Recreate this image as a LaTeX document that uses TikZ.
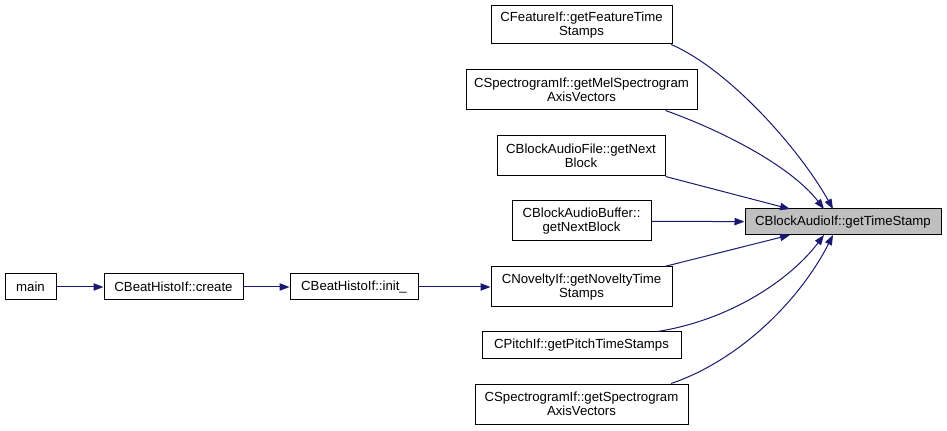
\documentclass[tikz,border=0pt]{standalone}
\usepackage{fontspec}
\setmainfont{Liberation Sans}
\usetikzlibrary{arrows.meta}
\definecolor{edgecol}{HTML}{191970}
\definecolor{hlgray}{HTML}{BFBFBF}
\begin{document}
\begin{tikzpicture}[x=0.75pt,y=-0.75pt,
  box/.style={draw=black, line width=0.75pt, fill=white, inner sep=0pt, align=center,
    font=\fontsize{9.9}{10.5}\selectfont},
  callarrow/.style={draw=edgecol, line width=0.75pt, -{Triangle[length=7.5pt,width=5.5pt]}}]
\fill[white] (0,0) rectangle (947,431);
\useasboundingbox (0,0) rectangle (947,431);

\node[box, minimum width=38.25pt, minimum height=19.5pt] (main) at (30.5,287) {main};
\node[box, minimum width=104.25pt, minimum height=19.5pt] (create) at (173.5,287) {CBeatHistoIf::create};
\node[box, minimum width=96pt, minimum height=19.5pt] (init) at (354,287) {CBeatHistoIf::init\_};

\node[box, minimum width=135.75pt, minimum height=28.5pt] (feat) at (581.5,25) {CFeatureIf::getFeatureTime\\Stamps};
\node[box, minimum width=173.25pt, minimum height=30pt] (mel) at (581.5,90) {CSpectrogramIf::getMelSpectrogram\\AxisVectors};
\node[box, minimum width=126pt, minimum height=30pt] (bfile) at (581,156) {CBlockAudioFile::getNext\\Block};
\node[box, minimum width=104.25pt, minimum height=30pt] (bbuf) at (581.5,221) {CBlockAudioBuffer::\\getNextBlock};
\node[box, minimum width=135.75pt, minimum height=30pt] (nov) at (581.5,287) {CNoveltyIf::getNoveltyTime\\Stamps};
\node[box, minimum width=149.25pt, minimum height=19.5pt] (pitch) at (581.5,345) {CPitchIf::getPitchTimeStamps};
\node[box, minimum width=159.75pt, minimum height=30pt] (spec) at (581.5,404) {CSpectrogramIf::getSpectrogram\\AxisVectors};

\node[box, fill=hlgray, minimum width=147pt, minimum height=19.5pt] (tgt) at (843,222) {CBlockAudioIf::getTimeStamp};

\coordinate (tA) at (833,209);
\coordinate (tB) at (824,209);
\coordinate (tC) at (790,209);
\coordinate (tD) at (790,235);
\coordinate (tE) at (824,235);
\coordinate (tF) at (833,235);

\draw[callarrow] (main) -- (create);
\draw[callarrow] (create) -- (init);
\draw[callarrow] (init) -- (nov);

\draw[callarrow] ([xshift=-1pt]feat.south east) .. controls (730,70) and (800,150) .. (tA);
\draw[callarrow] ([xshift=-24pt]mel.south east) .. controls (720,130) and (790,165) .. (tB);
\draw[callarrow] (bfile.south east) -- (tC);
\draw[callarrow] (bbuf) -- (tgt);
\draw[callarrow] ([xshift=-6pt]nov.north east) -- (tD);
\draw[callarrow] ([xshift=-18pt]pitch.north east) .. controls (730,320) and (790,280) .. (tE);
\draw[callarrow] ([xshift=-13pt]spec.north east) .. controls (740,360) and (800,300) .. (tF);
\end{tikzpicture}
\end{document}
